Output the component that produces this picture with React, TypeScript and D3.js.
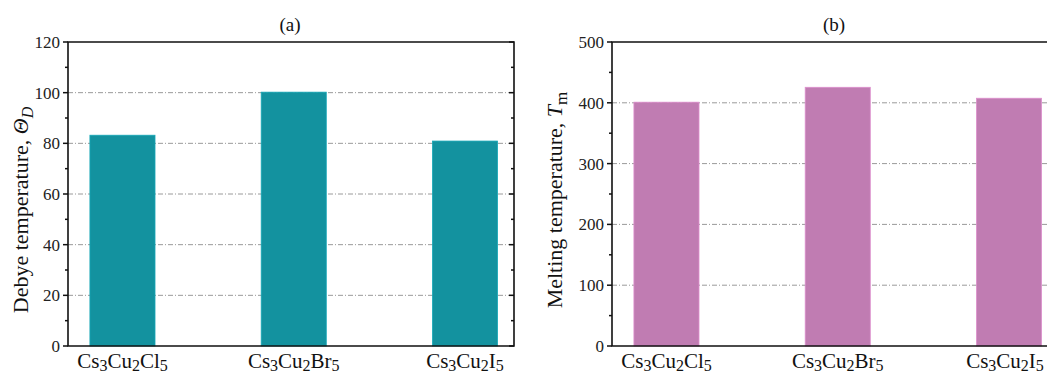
import React from "react";
import * as d3 from "d3";

// compounds on the x axis (digits get drawn as subscripts)
const categories = ["Cs3Cu2Cl5", "Cs3Cu2Br5", "Cs3Cu2I5"];
const debyeTemps = [83.2, 100.2, 80.9];
const meltingTemps = [401, 425.5, 407.5];
const debyeTicks = [0, 20, 40, 60, 80, 100, 120];
const meltingTicks = [0, 100, 200, 300, 400, 500];

const W = 1047;
const H = 377;
const FONT = "'Liberation Serif', 'Times New Roman', serif";

function Formula({ text, x, y }: { text: string; x: number; y: number }) {
  // split into letter / digit runs
  const parts = text.match(/[A-Za-z]+|\d+/g) || [];
  let shifted = false;
  return (
    <text x={x} y={y} textAnchor="middle" fontSize={21} fontFamily={FONT} fill="#111">
      {parts.map((p, i) => {
        const isNum = /\d/.test(p);
        let dy = 0;
        if (isNum && !shifted) { dy = 3; shifted = true; }
        else if (!isNum && shifted) { dy = -3; shifted = false; }
        return (
          <tspan key={i} dy={dy} fontSize={isNum ? 16 : 21}>{p}</tspan>
        );
      })}
    </text>
  );
}

type PanelProps = {
  left: number;
  values: number[];
  ticks: number[];
  color: string;
  title: string;
  yLabel: React.ReactNode;
  labelX: number;
  labelY: number;
};

function Panel({ left, values, ticks, color, title, yLabel, labelX, labelY }: PanelProps) {
  const top = 42;
  const bottom = 346;
  const width = 446;
  const right = left + width;
  const yMax = ticks[ticks.length - 1];
  const step = ticks[1] - ticks[0];

  const x = d3.scaleLinear().domain([0.682, 3.286]).range([left, right]);
  const y = d3.scaleLinear().domain([0, yMax]).range([bottom, top]);
  const barW = x(1.38) - x(1);

  const minor = d3.range(step / 2, yMax, step);
  const grid = ticks.filter(t => t > 0 && t < yMax);

  return (
    <g>
      {/* grid lines */}
      {grid.map(t => (
        <line key={"g" + t} x1={left} x2={right} y1={y(t)} y2={y(t)}
          stroke="#9a9a9a" strokeWidth={1} strokeDasharray="5 2 1 2" />
      ))}
      {/* bars */}
      {values.map((v, i) => (
        <rect key={i} x={x(i + 1) - barW / 2} y={y(v)} width={barW} height={y(0) - y(v)}
          fill={color} stroke={d3.color(color)!.brighter(0.4).toString()} strokeWidth={0.8} />
      ))}
      {/* frame */}
      <path d={`M${left},${top}H${right}V${bottom}H${left}Z`} fill="none" stroke="#111" strokeWidth={1.6} />
      {/* left ticks, outward */}
      {ticks.map(t => (
        <line key={"lt" + t} x1={left - 5} x2={left} y1={y(t)} y2={y(t)} stroke="#111" strokeWidth={1.5} />
      ))}
      {minor.map(t => (
        <line key={"lm" + t} x1={left - 3} x2={left} y1={y(t)} y2={y(t)} stroke="#111" strokeWidth={1.5} />
      ))}
      {/* right ticks, inward */}
      {ticks.concat(minor).map(t => (
        <line key={"rt" + t} x1={right - (ticks.includes(t) ? 5 : 3)} x2={right} y1={y(t)} y2={y(t)} stroke="#111" strokeWidth={1.5} />
      ))}
      {ticks.map(t => (
        <text key={"tl" + t} x={left - 8} y={y(t)} dy="0.35em" textAnchor="end"
          fontSize={17} fontFamily={FONT} fill="#222">{t}</text>
      ))}
      {categories.map((c, i) => (
        <Formula key={c} text={c} x={x(i + 1) - (left > 300 && i === 2 ? 4 : 0)} y={368} />
      ))}
      <text x={(left + right) / 2 - 1} y={31} textAnchor="middle" fontSize={19} fontFamily={FONT} fill="#111">{title}</text>
      <text transform={`translate(${labelX},${labelY}) rotate(-90)`} textAnchor="middle"
        fontSize={22} fontFamily={FONT} fill="#111">{yLabel}</text>
    </g>
  );
}

export default function App() {
  return (
    <svg width={W} height={H} style={{ position: "absolute", left: 0, top: 0, background: "#fff" }}>
      <Panel left={68} values={debyeTemps} ticks={debyeTicks} color="#13929f" title="(a)"
        labelX={28} labelY={210}
        yLabel={<>
          Debye temperature, <tspan fontStyle="italic">Θ</tspan>
          <tspan fontStyle="italic" fontSize={16} dy={5}>D</tspan>
        </>} />
      <Panel left={612} values={meltingTemps} ticks={meltingTicks} color="#c07cb2" title="(b)"
        labelX={562} labelY={200}
        yLabel={<>
          Melting temperature, <tspan fontStyle="italic">T</tspan>
          <tspan fontSize={17} dy={5}>m</tspan>
        </>} />
    </svg>
  );
}
